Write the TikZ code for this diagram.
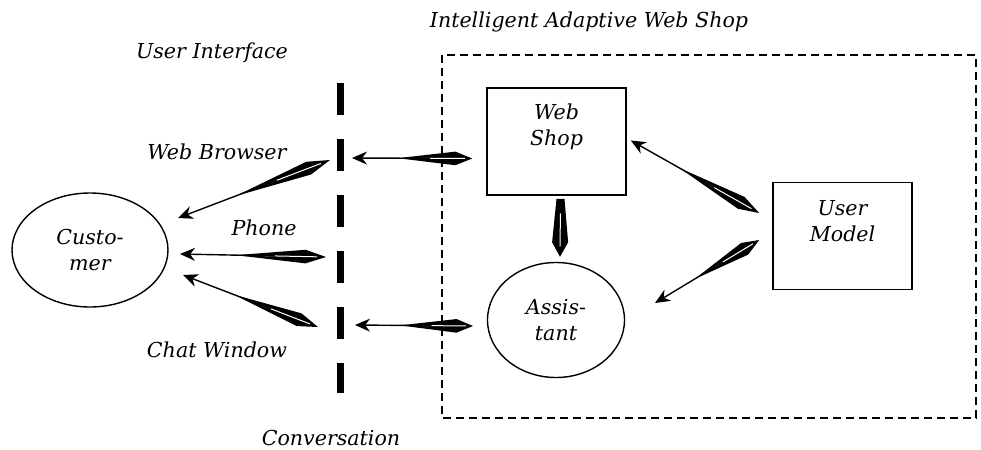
\documentclass[tikz,border=0pt]{standalone}
\usepackage{fontspec}
\setmainfont{DejaVu Serif}
\usetikzlibrary{shapes.geometric,calc,arrows.meta}

% kite shaped connector: [taper] {tail} {head}
\newcommand{\spindle}[3][0.62]{%
  \fill (#2) -- ($($(#2)!0.14!(#3)$)!3.4pt!90:(#3)$) -- ($(#2)!#1!(#3)$)
    -- ($($(#2)!0.14!(#3)$)!3.4pt!-90:(#3)$) -- cycle;
  \draw[white,line width=0.5pt] ($(#2)!0.06!(#3)$) -- ($(#2)!0.42!(#3)$);
  \draw[line width=0.7pt,-{Stealth[length=7.5pt,width=6.5pt]}] ($(#2)!0.35!(#3)$) -- (#3);
}

\tikzset{
  txt/.style={font=\fontsize{10.3}{13}\selectfont\itshape, align=center, inner sep=1pt},
  box/.style={draw, line width=0.8pt, minimum width=69.5pt, minimum height=53.5pt},
  oval/.style={draw, ellipse, line width=0.7pt, txt}
}

\begin{document}
\begin{tikzpicture}[x=0.5pt,y=-0.5pt]
	\useasboundingbox (0,0) rectangle (981,450);
	% web shop frame
	\draw[line width=0.75pt, dash pattern=on 4pt off 2.5pt] (442,55) rectangle (976,418);
	\node[txt] (title) at (589,22) {Intelligent Adaptive Web Shop};
	% user interface line
	\draw[line width=3.5pt, dash pattern=on 16pt off 12pt] (340,83) -- (340,393);
	\node[txt] (uitxt) at (212,53) {User Interface};
	\node[txt] (convtxt) at (331,438) {Conversation};
	\node[txt] (browsertxt) at (217,152) {Web Browser};
	\node[txt] (phonetxt) at (264,228) {Phone};
	\node[txt] (chattxt) at (217,350) {Chat Window};
	% nodes
	\node[oval, minimum width=78pt, minimum height=57pt] (cust) at (90,250) {Custo-\\mer};
	\node[oval, minimum width=68.5pt, minimum height=57.5pt] (asst) at (556,320) {Assis-\\tant};
	\node[box] (shop) at (556.5,141.5) {};
	\node[txt, anchor=north] (shoptxt) at ($(shop.north)+(0,14)$) {Web\\Shop};
	\node[box] (model) at (842.5,236) {};
	\node[txt, anchor=north] (modeltxt) at ($(model.north)+(0,16)$) {User\\Model};
	% ends on the interface line
	\coordinate (ui1) at (352,158);
	\coordinate (ui2) at (330,160);
	\coordinate (ui3) at (326,257);
	\coordinate (ui4) at (318,327);
	\coordinate (ui5) at (355,325);
	% connectors
	\coordinate (s1) at ($(shop.west)+(-14,17)$);
	\spindle{s1}{ui1}
	\coordinate (c1) at ($(cust)+(88,-32)$);
	\spindle{ui2}{c1}
	\coordinate (c2) at ($(cust)+(90,4)$);
	\spindle{ui3}{c2}
	\coordinate (c3) at ($(cust)+(93,25)$);
	\spindle{ui4}{c3}
	\coordinate (a1) at ($(asst)+(-83,6)$);
	\spindle{a1}{ui5}
	\coordinate (m1) at ($(model.west)+(-13,-23)$);
	\coordinate (s2) at ($(shop.east)+(4,-1)$);
	\spindle{m1}{s2}
	\coordinate (m2) at ($(model.west)+(-13,4)$);
	\coordinate (a2) at ($(asst)+(99,-17)$);
	\spindle{m2}{a2}
	% shop to assistant
	\coordinate (s3) at ($(shop.south)+(4,3)$);
	\coordinate (a3) at ($(asst.north)+(4,-5)$);
	\fill ($(s3)+(-4,0)$) -- ($(s3)+(4,0)$) -- ($($(s3)!0.75!(a3)$)+(8,0)$) -- (a3)
		-- ($($(s3)!0.75!(a3)$)+(-8,0)$) -- cycle;
	\draw[white,line width=0.5pt] ($(s3)!0.25!(a3)$) -- ($(s3)!0.82!(a3)$);
\end{tikzpicture}
\end{document}
